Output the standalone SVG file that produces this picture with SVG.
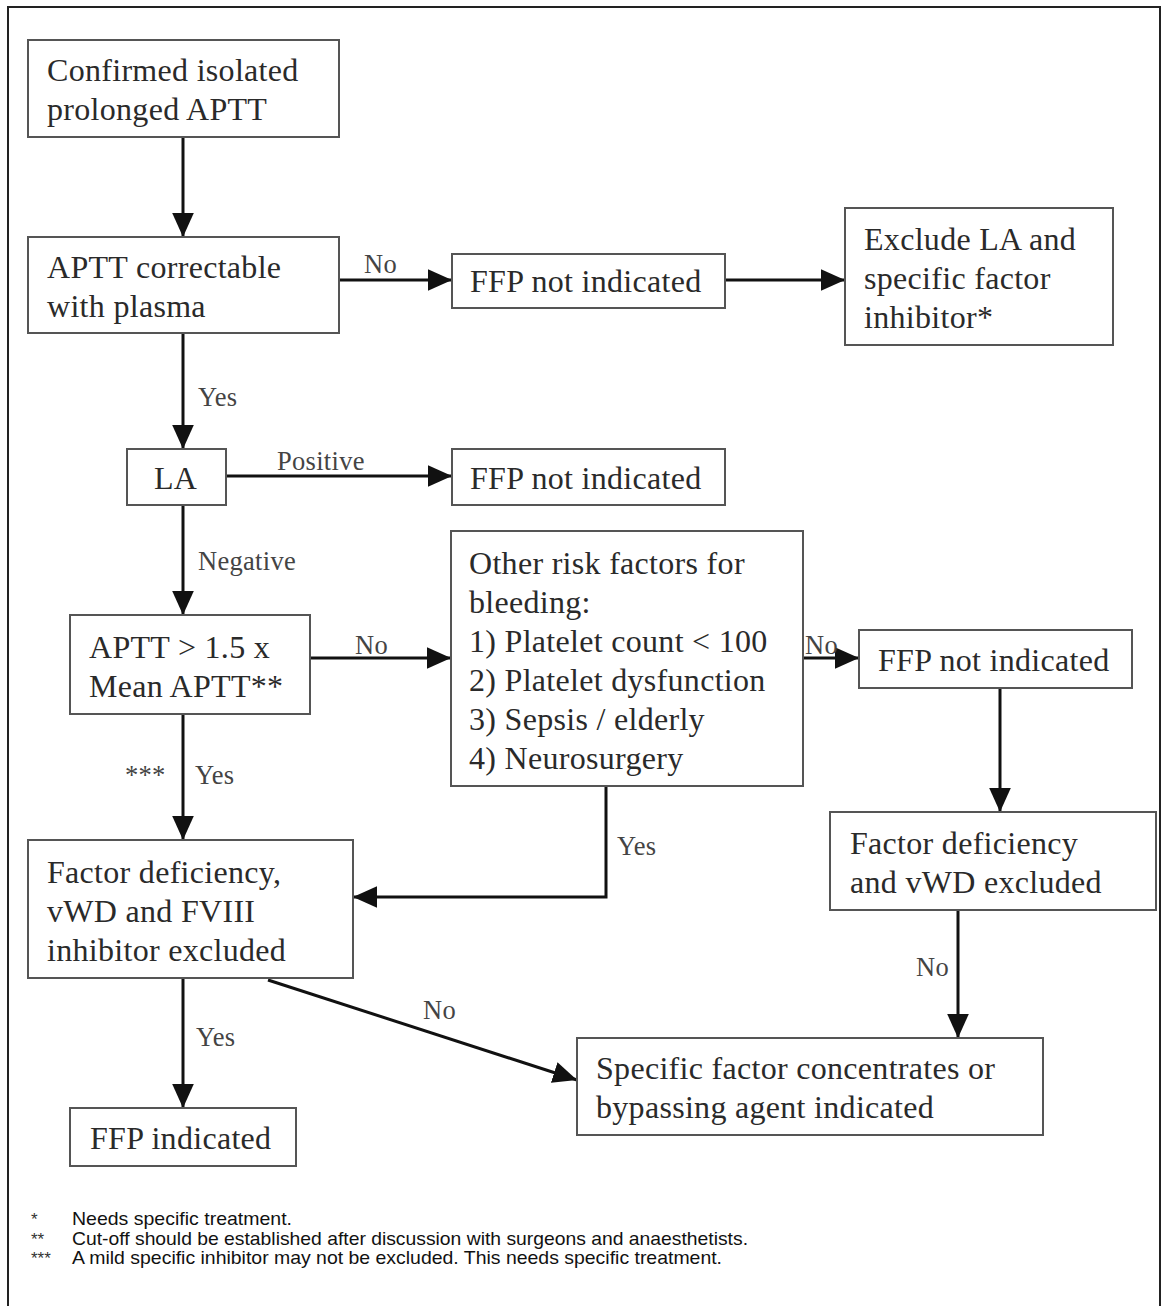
<svg xmlns="http://www.w3.org/2000/svg" width="1167" height="1306" viewBox="0 0 1167 1306">
<style>
.box{fill:#fff;stroke:#555;stroke-width:2}
.t{font-family:"Liberation Serif","Times New Roman",serif;font-size:32px;letter-spacing:0.3px;fill:#2a2a2a}
.l{font-family:"Liberation Serif","Times New Roman",serif;font-size:26.5px;letter-spacing:0.3px;fill:#444}
.c{fill:none;stroke:#111;stroke-width:3}
.f{font-family:"Liberation Sans",Arial,sans-serif;font-size:19px;fill:#111}
.s{font-family:"Liberation Sans",Arial,sans-serif;font-size:17px;fill:#333}
</style>
<defs>
<marker id="ah" viewBox="0 0 10 10" refX="10" refY="5" markerWidth="24" markerHeight="24" markerUnits="userSpaceOnUse" orient="auto">
<path d="M0,0.5 L10,5 L0,9.5 z" fill="#111"/>
</marker>
</defs>
<rect x="8" y="7" width="1152" height="1310" fill="#fff" stroke="#222" stroke-width="2"/>
<g id="connectors">
<path class="c" d="M183,137 V237" marker-end="url(#ah)"/>
<path class="c" d="M339,280 H452" marker-end="url(#ah)"/>
<path class="c" d="M725,280 H845" marker-end="url(#ah)"/>
<path class="c" d="M183,333 V449" marker-end="url(#ah)"/>
<path class="c" d="M226,476 H452" marker-end="url(#ah)"/>
<path class="c" d="M183,505 V615" marker-end="url(#ah)"/>
<path class="c" d="M310,658 H451" marker-end="url(#ah)"/>
<path class="c" d="M803,658 H859" marker-end="url(#ah)"/>
<path class="c" d="M1000,688 V812" marker-end="url(#ah)"/>
<path class="c" d="M183,714 V840" marker-end="url(#ah)"/>
<path class="c" d="M606,786 V897 H353" marker-end="url(#ah)"/>
<path class="c" d="M183,978 V1108" marker-end="url(#ah)"/>
<path class="c" d="M268,980 L577,1080" marker-end="url(#ah)"/>
<path class="c" d="M958,910 V1038" marker-end="url(#ah)"/>
<text class="l" x="364" y="273">No</text>
<text class="l" x="198" y="406">Yes</text>
<text class="l" x="277" y="470">Positive</text>
<text class="l" x="198" y="570">Negative</text>
<text class="l" x="355" y="654">No</text>
<text class="l" x="805" y="654">No</text>
<text class="l" x="125" y="784">***</text>
<text class="l" x="195" y="784">Yes</text>
<text class="l" x="617" y="855">Yes</text>
<text class="l" x="196" y="1046">Yes</text>
<text class="l" x="423" y="1019">No</text>
<text class="l" x="916" y="976">No</text>
</g>
<g id="n1"><rect class="box" x="28" y="40" width="311" height="97"/>
<text class="t" x="47" y="81">Confirmed isolated</text><text class="t" x="47" y="120">prolonged APTT</text></g>
<g id="n2"><rect class="box" x="28" y="237" width="311" height="96"/>
<text class="t" x="47" y="278">APTT correctable</text><text class="t" x="47" y="317">with plasma</text></g>
<g id="n3"><rect class="box" x="452" y="254" width="273" height="54"/>
<text class="t" x="470" y="292">FFP not indicated</text></g>
<g id="n4"><rect class="box" x="845" y="208" width="268" height="137"/>
<text class="t" x="864" y="250">Exclude LA and</text><text class="t" x="864" y="289">specific factor</text><text class="t" x="864" y="328">inhibitor*</text></g>
<g id="n5"><rect class="box" x="127" y="449" width="99" height="56"/>
<text class="t" x="154" y="489">LA</text></g>
<g id="n6"><rect class="box" x="452" y="449" width="273" height="56"/>
<text class="t" x="470" y="489">FFP not indicated</text></g>
<g id="n7"><rect class="box" x="70" y="615" width="240" height="99"/>
<text class="t" x="89" y="658">APTT &gt; 1.5 x</text><text class="t" x="89" y="697">Mean APTT**</text></g>
<g id="n8"><rect class="box" x="451" y="531" width="352" height="255"/>
<text class="t" x="469" y="574">Other risk factors for</text><text class="t" x="469" y="613">bleeding:</text><text class="t" x="469" y="652">1) Platelet count &lt; 100</text><text class="t" x="469" y="691">2) Platelet dysfunction</text><text class="t" x="469" y="730">3) Sepsis / elderly</text><text class="t" x="469" y="769">4) Neurosurgery</text></g>
<g id="n9"><rect class="box" x="859" y="630" width="273" height="58"/>
<text class="t" x="878" y="671">FFP not indicated</text></g>
<g id="n10"><rect class="box" x="830" y="812" width="326" height="98"/>
<text class="t" x="850" y="854">Factor deficiency</text><text class="t" x="850" y="893">and vWD excluded</text></g>
<g id="n11"><rect class="box" x="28" y="840" width="325" height="138"/>
<text class="t" x="47" y="883">Factor deficiency,</text><text class="t" x="47" y="922">vWD and FVIII</text><text class="t" x="47" y="961">inhibitor excluded</text></g>
<g id="n12"><rect class="box" x="577" y="1038" width="466" height="97"/>
<text class="t" x="596" y="1079">Specific factor concentrates or</text><text class="t" x="596" y="1118">bypassing agent indicated</text></g>
<g id="n13"><rect class="box" x="70" y="1108" width="226" height="58"/>
<text class="t" x="90" y="1149">FFP indicated</text></g>
<g id="notes">
<text class="s" x="31" y="1225">*</text><text class="f" x="72" y="1225" textLength="220" lengthAdjust="spacingAndGlyphs">Needs specific treatment.</text>
<text class="s" x="31" y="1244.5">**</text><text class="f" x="72" y="1244.5" textLength="676" lengthAdjust="spacingAndGlyphs">Cut-off should be established after discussion with surgeons and anaesthetists.</text>
<text class="s" x="31" y="1264">***</text><text class="f" x="72" y="1264" textLength="650" lengthAdjust="spacingAndGlyphs">A mild specific inhibitor may not be excluded. This needs specific treatment.</text>
</g>
</svg>
